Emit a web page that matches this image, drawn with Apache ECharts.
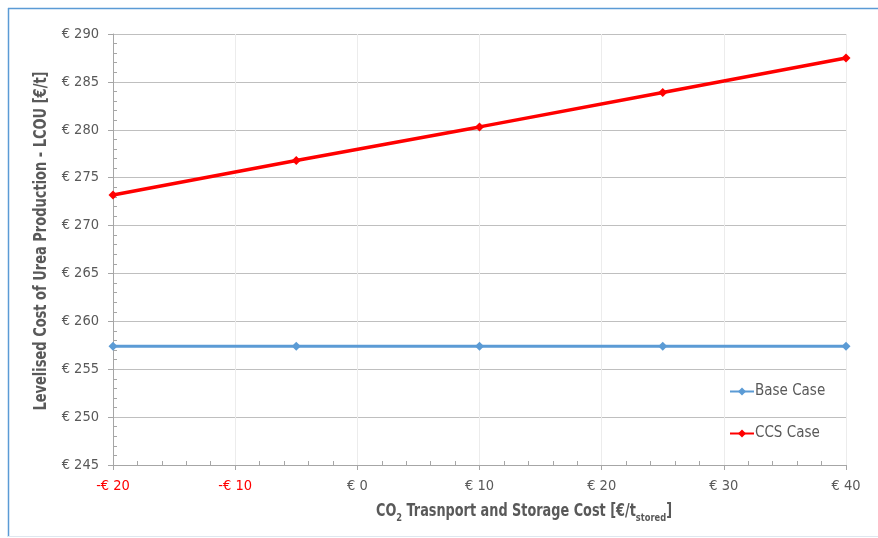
<!DOCTYPE html>
<html>
<head>
<meta charset="utf-8">
<script src="https://cdn.jsdelivr.net/npm/echarts@6/dist/echarts.min.js"></script>
<style>
  html, body { margin: 0; padding: 0; background: #fff; }
  #chart { width: 878px; height: 538px; }
</style>
</head>
<body>
<div id="chart"></div>
<script>
// CO2 transport & storage cost (€/t stored)
const transportCost = [-20, -5, 10, 25, 40];
// Levelised cost of urea production (€/t)
const baseCase = [257.4, 257.4, 257.4, 257.4, 257.4];
const ccsCase = [273.2, 276.8, 280.3, 283.9, 287.5];
const seriesNames = ['Base Case', 'CCS Case'];
const yAxisTitle = 'Levelised Cost of Urea Production - LCOU [€/t]';

const FONT = '"Liberation Sans Narrow", "Arial Narrow", "DejaVu Sans Condensed", sans-serif';
const TEXT = '#595959';

const pairs = vals => transportCost.map((x, i) => [x, vals[i]]);

const chart = echarts.init(document.getElementById('chart'), null, { renderer: 'canvas' });

chart.setOption({
  backgroundColor: '#ffffff',
  animation: false,
  textStyle: { fontFamily: FONT },
  graphic: [
    // outer frame
    { type: 'line', shape: { x1: 8, y1: 8.5, x2: 878, y2: 8.5 }, style: { stroke: '#5b9bd5', lineWidth: 1.5 } },
    { type: 'line', shape: { x1: 8.5, y1: 8, x2: 8.5, y2: 537 }, style: { stroke: '#5b9bd5', lineWidth: 1.5 } },
    { type: 'line', shape: { x1: 8, y1: 536.5, x2: 878, y2: 536.5 }, style: { stroke: '#dfe7ef', lineWidth: 1 } },
    // horizontal axis title, condensed to a narrow face
    {
      type: 'text',
      x: 376,
      y: 509,
      scaleX: 0.84,
      style: {
        text: '{b|CO}{sub|2}{b| Trasnport and Storage Cost [€/t}{sub|stored}{b|]}',
        verticalAlign: 'middle',
        rich: {
          b: { fontFamily: FONT, fontSize: 17, fontWeight: 'bold', fill: TEXT, lineHeight: 22, verticalAlign: 'bottom' },
          sub: { fontFamily: FONT, fontSize: 11, fontWeight: 'bold', fill: TEXT, lineHeight: 22, verticalAlign: 'bottom', padding: [0, 0, -4, 0] }
        }
      }
    },
    // vertical axis title
    {
      type: 'text',
      x: 42,
      y: 241,
      rotation: Math.PI / 2,
      scaleX: 0.85,
      style: {
        text: yAxisTitle,
        align: 'center',
        verticalAlign: 'middle',
        fontFamily: FONT,
        fontSize: 17,
        fontWeight: 'bold',
        fill: TEXT
      }
    }
  ],
  grid: { left: 113, right: 32, top: 34, bottom: 73, containLabel: false },
  legend: {
    orient: 'vertical',
    left: 724,
    top: 379,
    itemGap: 27,
    itemWidth: 24,
    itemHeight: 10,
    data: seriesNames,
    textStyle: { fontFamily: FONT, fontSize: 15, color: TEXT, padding: [0, 0, 0, -4] }
  },
  xAxis: {
    type: 'value',
    min: -20,
    max: 40,
    interval: 10,
    axisLine: { show: true, onZero: false, lineStyle: { color: '#a6a6a6', width: 1 } },
    axisTick: { show: true, length: 5, lineStyle: { color: '#a6a6a6' } },
    minorTick: { show: true, splitNumber: 5, length: -4, lineStyle: { color: '#a6a6a6' } },
    splitLine: { show: true, lineStyle: { color: '#ececec', width: 1 } },
    axisLabel: {
      margin: 14,
      fontFamily: FONT,
      fontSize: 14.5,
      color: TEXT,
      formatter: v => v < 0 ? '{neg|-€ ' + Math.abs(v) + '}' : '€ ' + v,
      rich: { neg: { fontFamily: FONT, fontSize: 14.5, color: '#ff0000' } }
    }
  },
  yAxis: {
    type: 'value',
    min: 245,
    max: 290,
    interval: 5,
    axisLine: { show: true, onZero: false, lineStyle: { color: '#a6a6a6', width: 1 } },
    axisTick: { show: true, length: 5, lineStyle: { color: '#a6a6a6' } },
    minorTick: { show: true, splitNumber: 5, length: -4, lineStyle: { color: '#a6a6a6' } },
    splitLine: { show: true, lineStyle: { color: '#bfbfbf', width: 1 } },
    axisLabel: {
      margin: 14,
      fontFamily: FONT,
      fontSize: 14.5,
      color: TEXT,
      formatter: v => '€ ' + v
    }
  },
  series: [
    {
      name: seriesNames[0],
      type: 'line',
      data: pairs(baseCase),
      symbol: 'diamond',
      symbolSize: 9,
      itemStyle: { color: '#5b9bd5' },
      lineStyle: { color: '#5b9bd5', width: 3 }
    },
    {
      name: seriesNames[1],
      type: 'line',
      data: pairs(ccsCase),
      symbol: 'diamond',
      symbolSize: 9,
      itemStyle: { color: '#ff0000' },
      lineStyle: { color: '#ff0000', width: 3.5 }
    }
  ]
});
</script>
</body>
</html>
